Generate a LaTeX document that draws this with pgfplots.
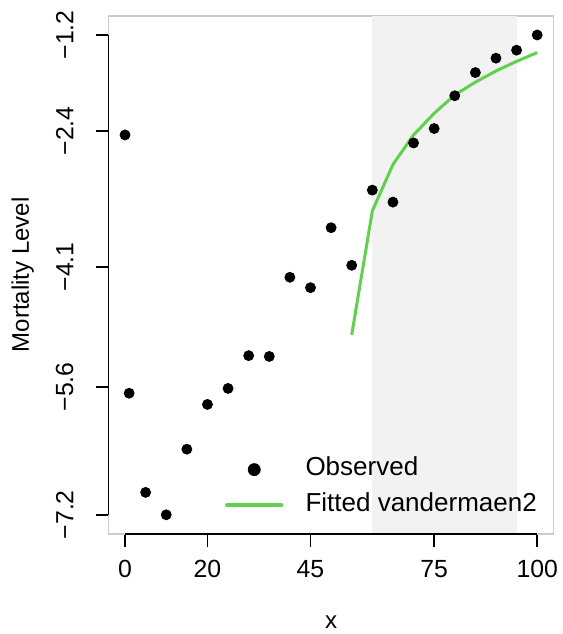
\documentclass[border=0pt]{standalone}
\usepackage{pgfplots}
\pgfplotsset{compat=1.18}
\usepackage{fontspec}
\setmainfont{Liberation Sans}
\definecolor{rgreen}{HTML}{61D04F}
\definecolor{shade}{HTML}{F2F2F2}
\definecolor{boxgrey}{HTML}{CCCCCC}

\pgfplotstableread{
x y
0 -2.45
1 -5.68
5 -6.92
10 -7.20
15 -6.38
20 -5.82
25 -5.62
30 -5.21
35 -5.22
40 -4.23
45 -4.36
50 -3.61
55 -4.08
60 -3.14
65 -3.29
70 -2.55
75 -2.37
80 -1.96
85 -1.67
90 -1.49
95 -1.39
100 -1.20
}\observed

\pgfplotstableread{
x y
55 -4.95
60 -3.40
65 -2.82
70 -2.45
75 -2.18
80 -1.95
85 -1.79
90 -1.65
95 -1.53
100 -1.42
}\fitted

\begin{document}
\begin{tikzpicture}
\begin{axis}[
  scale only axis, width=222.5pt, height=259pt,
  xmin=-4, xmax=104, ymin=-7.44, ymax=-0.96,
  clip=false,
  axis line style={boxgrey, line width=0.75pt},
  tick style={black, line width=0.75pt},
  tick align=outside, major tick length=6.5pt,
  tick pos=left,
  xtick={0,20,45,75,100}, xticklabels={0,20,45,75,100},
  ytick={-7.2,-5.6,-4.1,-2.4,-1.2},
  yticklabels={−7.2,−5.6,−4.1,−2.4,−1.2},
  tick label style={font=\fontsize{12.4}{14}\selectfont},
  yticklabel style={rotate=90, anchor=south},
  yticklabel shift=7.5pt, xticklabel shift=3pt,
  xlabel={x}, ylabel={Mortality Level},
  label style={font=\fontsize{12}{14}\selectfont},
  xlabel style={at={(axis description cs:0.5,-0.17)}, anchor=center},
  ylabel style={at={(axis description cs:-0.193,0.5)}, anchor=center},
  legend cell align=left,
  legend style={draw=none, fill=none, inner sep=0pt, outer sep=0pt,
    font=\fontsize{13}{15}\selectfont,
    nodes={inner sep=0pt, text height=9pt, text depth=3pt},
    row sep=5.7pt, column sep=11pt,
    at={(axis cs:24.25,-6.485)}, anchor=north west},
]
\addplot[fill=shade, draw=none, forget plot] coordinates {(60,-7.44) (95,-7.44) (95,-0.96) (60,-0.96)} -- cycle;
\draw[black, line width=0.75pt] (axis cs:0,-7.44) -- (axis cs:100,-7.44);
\draw[black, line width=0.75pt] (axis cs:-4,-7.2) -- (axis cs:-4,-1.2);
\addplot[only marks, mark=*, mark size=2.5pt, black,
  legend image code/.code={\path[draw=none, fill=none] (0pt,0pt) -- (27pt,0pt); \fill[black] (13.5pt,0pt) circle (3pt);}]
  table[x=x, y=y] {\observed};
\addlegendentry{Observed}
\addplot[rgreen, line width=1.5pt, mark=none,
  legend image code/.code={\draw[rgreen, line width=2.25pt, line cap=round] (0pt,0pt) -- (27pt,0pt);}]
  table[x=x, y=y] {\fitted};
\addlegendentry{Fitted vandermaen2}
\end{axis}
\pgfresetboundingbox
\path ([xshift=-54.25pt, yshift=-50pt]current axis.south west) rectangle ([xshift=4.25pt, yshift=7.9pt]current axis.north east);
\end{tikzpicture}
\end{document}
